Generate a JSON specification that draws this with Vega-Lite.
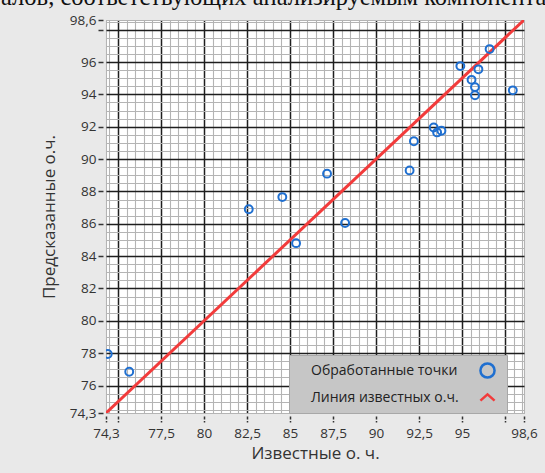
{
  "$schema": "https://vega.github.io/schema/vega-lite/v6.json",
  "autosize": "none",
  "width": 418,
  "height": 393,
  "padding": {"left": 106, "top": 20, "right": 21, "bottom": 60},
  "background": "#e9e9e9",
  "title": {
    "text": "алов, соответствующих анализируемым компонентам",
    "anchor": "start",
    "frame": "group",
    "dx": -105,
    "offset": -16,
    "baseline": "alphabetic",
    "font": "Liberation Serif",
    "fontSize": 24.5,
    "fontWeight": "normal",
    "color": "#111111"
  },
  "config": {
    "view": {"fill": "white", "stroke": "#9a9a9a", "strokeWidth": 1},
    "font": "Open Sans"
  },
  "layer": [
    {
      "data": {"values": [
        {"known": 74.3, "predicted": 74.3},
        {"known": 98.6, "predicted": 98.6}
      ]},
      "mark": {"type": "line", "color": "#f23b3b", "strokeWidth": 3, "clip": true},
      "encoding": {
        "x": {"field": "known", "type": "quantitative"},
        "y": {"field": "predicted", "type": "quantitative"}
      }
    },
    {
      "data": {"values": [
        {"known": 96.6, "predicted": 96.8, "series": "Обработанные точки"},
        {"known": 94.9, "predicted": 95.75, "series": "Обработанные точки"},
        {"known": 95.95, "predicted": 95.55, "series": "Обработанные точки"},
        {"known": 95.55, "predicted": 94.9, "series": "Обработанные точки"},
        {"known": 95.75, "predicted": 94.45, "series": "Обработанные точки"},
        {"known": 95.75, "predicted": 93.95, "series": "Обработанные точки"},
        {"known": 97.95, "predicted": 94.25, "series": "Обработанные точки"},
        {"known": 93.35, "predicted": 91.95, "series": "Обработанные точки"},
        {"known": 93.55, "predicted": 91.65, "series": "Обработанные точки"},
        {"known": 93.8, "predicted": 91.75, "series": "Обработанные точки"},
        {"known": 92.2, "predicted": 91.1, "series": "Обработанные точки"},
        {"known": 91.95, "predicted": 89.3, "series": "Обработанные точки"},
        {"known": 87.15, "predicted": 89.1, "series": "Обработанные точки"},
        {"known": 88.2, "predicted": 86.05, "series": "Обработанные точки"},
        {"known": 82.6, "predicted": 86.9, "series": "Обработанные точки"},
        {"known": 84.55, "predicted": 87.65, "series": "Обработанные точки"},
        {"known": 85.35, "predicted": 84.8, "series": "Обработанные точки"},
        {"known": 74.4, "predicted": 77.95, "series": "Обработанные точки"},
        {"known": 75.65, "predicted": 76.85, "series": "Обработанные точки"}
      ]},
      "mark": {"type": "point", "filled": false, "strokeWidth": 2, "size": 62, "opacity": 1, "clip": true},
      "encoding": {
        "x": {
          "field": "known",
          "type": "quantitative",
          "title": "Известные о. ч.",
          "scale": {"domain": [74.3, 98.6], "nice": false, "zero": false},
          "axis": {
            "values": [74.3, 74.5, 75, 75.5, 76, 76.5, 77, 77.5, 78, 78.5, 79, 79.5, 80, 80.5, 81, 81.5, 82, 82.5, 83, 83.5, 84, 84.5, 85, 85.5, 86, 86.5, 87, 87.5, 88, 88.5, 89, 89.5, 90, 90.5, 91, 91.5, 92, 92.5, 93, 93.5, 94, 94.5, 95, 95.5, 96, 96.5, 97, 97.5, 98, 98.5, 98.6],
            "tickCount": 200,
            "format": ".1~f",
            "domain": false,
            "offset": 3,
            "grid": true,
            "gridColor": {"condition": {"test": "datum.value % 2.5 == 0", "value": "#1e1e1e"}, "value": "#b4b4b4"},
            "gridWidth": {"condition": {"test": "datum.value % 2.5 == 0", "value": 1.5}, "value": 1.1},
            "gridOpacity": 1,
            "tickSize": {"condition": {"test": "datum.value % 2.5 == 0 || datum.value == 74.3 || datum.value == 98.6", "value": 6}, "value": 0},
            "tickColor": "#333333",
            "tickWidth": 1.5,
            "tickDash": [3, 1.5],
            "labelExpr": "(datum.value == 74.3 || datum.value == 98.6 || (datum.value % 2.5 == 0 && datum.value != 75 && datum.value != 97.5)) ? replace(datum.label, '.', ',') : ''",
            "labelOverlap": false,
            "labelFlush": false,
            "labelBound": false,
            "labelPadding": 4,
            "labelFontSize": 13.5,
            "labelColor": "#333333",
            "titleFontSize": 17,
            "titleFontWeight": "normal",
            "titleColor": "#333333",
            "titlePadding": 6
          }
        },
        "y": {
          "field": "predicted",
          "type": "quantitative",
          "title": "Предсказанные о.ч.",
          "scale": {"domain": [74.3, 98.6], "nice": false, "zero": false},
          "axis": {
            "values": [74.3, 74.5, 75, 75.5, 76, 76.5, 77, 77.5, 78, 78.5, 79, 79.5, 80, 80.5, 81, 81.5, 82, 82.5, 83, 83.5, 84, 84.5, 85, 85.5, 86, 86.5, 87, 87.5, 88, 88.5, 89, 89.5, 90, 90.5, 91, 91.5, 92, 92.5, 93, 93.5, 94, 94.5, 95, 95.5, 96, 96.5, 97, 97.5, 98, 98.5, 98.6],
            "tickCount": 200,
            "format": ".1~f",
            "domain": false,
            "offset": 3,
            "grid": true,
            "gridColor": {"condition": {"test": "datum.value % 2 == 0", "value": "#1e1e1e"}, "value": "#b4b4b4"},
            "gridWidth": {"condition": {"test": "datum.value % 2 == 0", "value": 1.5}, "value": 1.1},
            "gridOpacity": 1,
            "tickSize": {"condition": {"test": "datum.value % 2 == 0 || datum.value == 74.3 || datum.value == 98.6", "value": 5}, "value": 0},
            "tickColor": "#333333",
            "tickWidth": 1.5,
            "labelExpr": "(datum.value == 74.3 || datum.value == 98.6 || (datum.value % 2 == 0 && datum.value != 98)) ? replace(datum.label, '.', ',') : ''",
            "labelOverlap": false,
            "labelFlush": false,
            "labelBound": false,
            "labelPadding": 2,
            "labelFontSize": 13.5,
            "labelColor": "#333333",
            "titleFontSize": 17,
            "titleFontWeight": "normal",
            "titleColor": "#333333",
            "titlePadding": 11
          }
        },
        "color": {
          "field": "series",
          "type": "nominal",
          "scale": {"domain": ["Обработанные точки", "Линия известных о.ч."], "range": ["#1f6fd0", "#f23b3b"]},
          "legend": {
            "title": null,
            "orient": "none",
            "legendX": 183,
            "legendY": 335,
            "fillColor": "#c6c6c6",
            "strokeColor": "#a8a8a8",
            "padding": 7,
            "rowPadding": 6,
            "labelFont": "Open Sans",
            "labelFontSize": 14,
            "labelColor": "#222222",
            "labelAlign": "left",
            "labelOffset": -185,
            "symbolOffset": 183,
            "symbolSize": 200,
            "symbolStrokeWidth": 2.5,
            "symbolFillColor": "white"
          }
        },
        "shape": {
          "field": "series",
          "type": "nominal",
          "scale": {"domain": ["Обработанные точки", "Линия известных о.ч."], "range": ["circle", "M-1,0.45L0,-0.45L1,0.45"]},
          "legend": null
        }
      }
    }
  ]
}
